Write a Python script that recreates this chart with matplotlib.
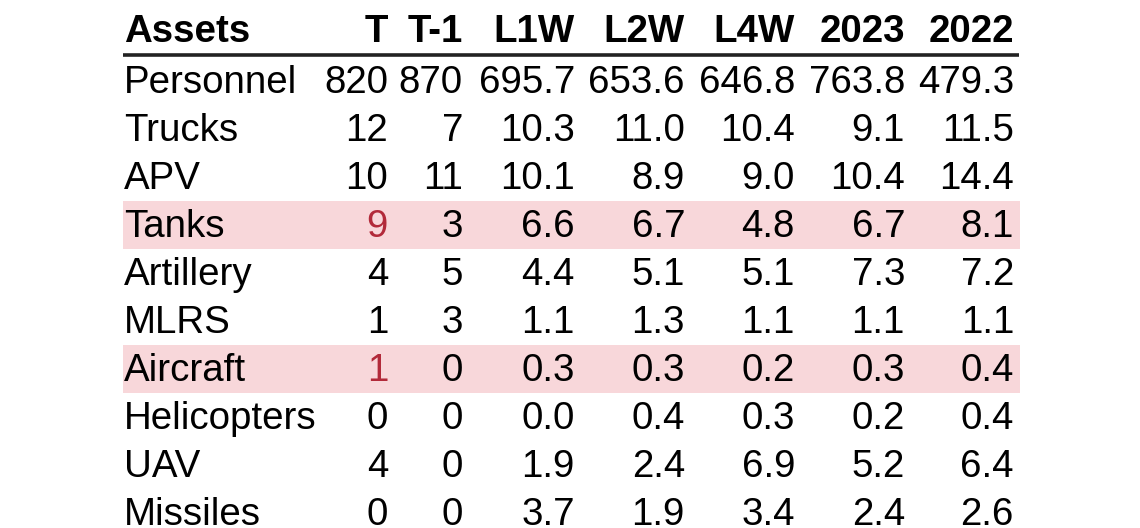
import matplotlib
matplotlib.use("Agg")
import matplotlib.pyplot as plt
from matplotlib.patches import Rectangle

assets = ["Personnel", "Trucks", "APV", "Tanks", "Artillery", "MLRS",
          "Aircraft", "Helicopters", "UAV", "Missiles"]
columns = ["T", "T-1", "L1W", "L2W", "L4W", "2023", "2022"]
t_vals = [820, 12, 10, 9, 4, 1, 1, 0, 4, 0]
t1_vals = [870, 7, 11, 3, 5, 3, 0, 0, 0, 0]
l1w = [695.7, 10.3, 10.1, 6.6, 4.4, 1.1, 0.3, 0.0, 1.9, 3.7]
l2w = [653.6, 11.0, 8.9, 6.7, 5.1, 1.3, 0.3, 0.4, 2.4, 1.9]
l4w = [646.8, 10.4, 9.0, 4.8, 5.1, 1.1, 0.2, 0.3, 6.9, 3.4]
y2023 = [763.8, 9.1, 10.4, 6.7, 7.3, 1.1, 0.3, 0.2, 5.2, 2.4]
y2022 = [479.3, 11.5, 14.4, 8.1, 7.2, 1.1, 0.4, 0.4, 6.4, 2.6]
highlighted = ["Tanks", "Aircraft"]

W, H = 1140, 528
fig = plt.figure(figsize=(W / 100, H / 100), dpi=100)
ax = fig.add_axes([0, 0, 1, 1])
ax.set_xlim(0, W)
ax.set_ylim(H, 0)
ax.axis("off")

font = "Liberation Sans"
fs = 27.7
left = 124
right_edges = [388, 463, 575, 685, 795, 905, 1014]
header_base = 42
row0_base = 93
row_h = 48
pink = "#f8d7da"
red = "#b22a3a"

series = [t_vals, t1_vals, l1w, l2w, l4w, y2023, y2022]
fmts = ["{:.0f}", "{:.0f}", "{:.1f}", "{:.1f}", "{:.1f}", "{:.1f}", "{:.1f}"]

# header
ax.text(left, header_base, "Assets", ha="left", va="baseline",
        fontsize=fs, fontweight="bold", family=font, color="black")
for c, xr in zip(columns, right_edges):
    ax.text(xr, header_base, c, ha="right", va="baseline",
            fontsize=fs, fontweight="bold", family=font, color="black")
ax.plot([123, 1019], [55, 55], color="#222222", lw=2.6, solid_capstyle="butt")

for i, name in enumerate(assets):
    base = row0_base + row_h * i
    if name in highlighted:
        ax.add_patch(Rectangle((123, base - 36), 1020 - 123, 47.5,
                               facecolor=pink, edgecolor="none", zorder=0))
    ax.text(left, base, name, ha="left", va="baseline",
            fontsize=fs, family=font, color="black")
    for j, (vals, fmt, xr) in enumerate(zip(series, fmts, right_edges)):
        col = red if (name in highlighted and j == 0) else "black"
        ax.text(xr, base, fmt.format(vals[i]), ha="right", va="baseline",
                fontsize=fs, family=font, color=col)

fig.savefig("out.png", dpi=100)
